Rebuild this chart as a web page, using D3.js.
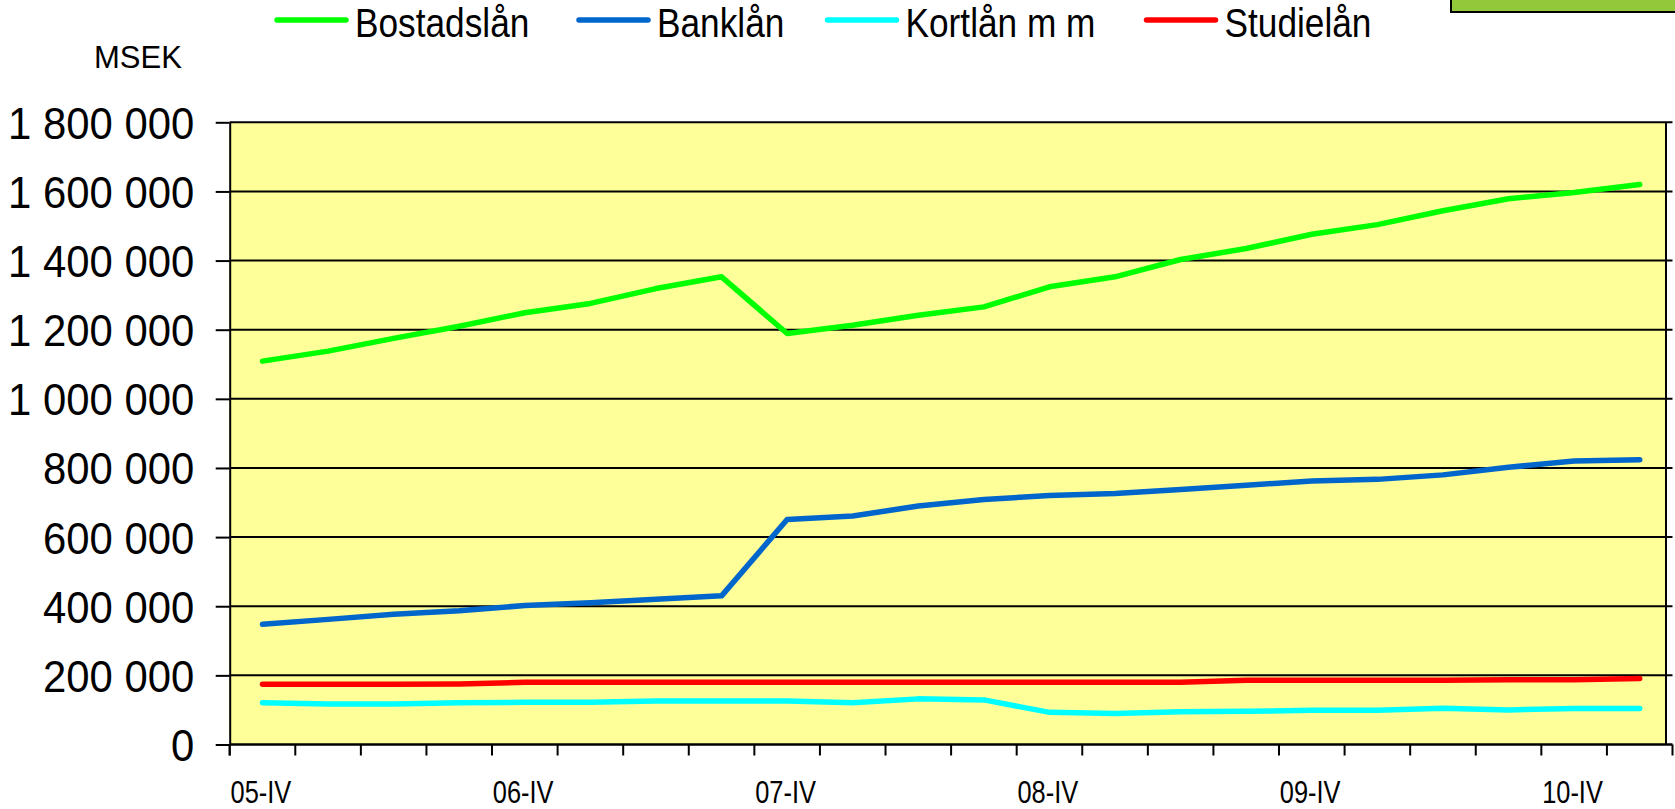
<!DOCTYPE html>
<html>
<head>
<meta charset="utf-8">
<script src="https://cdn.jsdelivr.net/npm/d3@7"></script>
<style>
  html, body { margin: 0; padding: 0; background: #fff; }
  #chart { width: 1675px; height: 809px; }
</style>
</head>
<body>
<div id="chart"></div>
<script>
// quarters on the category axis (only every 4th is labelled)
const quarters = [
  "05-IV",
  "06-I", "06-II", "06-III", "06-IV",
  "07-I", "07-II", "07-III", "07-IV",
  "08-I", "08-II", "08-III", "08-IV",
  "09-I", "09-II", "09-III", "09-IV",
  "10-I", "10-II", "10-III", "10-IV",
  "11-I"
];
const xLabels = ["05-IV", "06-IV", "07-IV", "08-IV", "09-IV", "10-IV"];

// MSEK
const bostadslan = [1109, 1138, 1175, 1210, 1249, 1276, 1319, 1353, 1189, 1213, 1242, 1266,
                    1324, 1353, 1403, 1435, 1476, 1504, 1544, 1579, 1597, 1620].map(d => d * 1000);
const banklan = [348, 362, 377, 387, 402, 410, 420, 430, 651, 661, 690, 709,
                 720, 726, 738, 750, 762, 767, 780, 802, 820, 824].map(d => d * 1000);
const kortlan = [121, 117, 117, 121, 122, 122, 126, 126, 126, 121, 132, 129,
                 93, 90, 95, 96, 99, 99, 105, 100, 104, 104].map(d => d * 1000);
const studielan = [174, 174, 174, 175, 180, 180, 180, 180, 180, 180, 180, 180,
                   180, 180, 180, 186, 186, 186, 186, 187, 187, 191].map(d => d * 1000);

const seriesNames = ["Bostadslån", "Banklån", "Kortlån m m", "Studielån"];
const seriesColors = ["#00ff00", "#0066cc", "#00ffff", "#ff0000"];
const seriesValues = [bostadslan, banklan, kortlan, studielan];

const yTicks = [0, 200000, 400000, 600000, 800000, 1000000, 1200000, 1400000, 1600000, 1800000];

const W = 1675, H = 809;
const PLOT = { LEFT: 229.7, RIGHT: 1666, AXIS_END: 1672.5, TOP: 122.3, BOTTOM: 744.5 };
const FONT = "'Liberation Sans', Arial, sans-serif";
const NARROW = 0.82; // horizontal squeeze for the condensed texts

const svg = d3.select("#chart")
  .append("svg")
  .attr("width", W)
  .attr("height", H);

const x = d3.scaleBand()
  .domain(quarters)
  .range([PLOT.LEFT, PLOT.AXIS_END])
  .padding(0);

const y = d3.scaleLinear()
  .domain([0, 1800000])
  .range([PLOT.BOTTOM, PLOT.TOP]);

const fmt = d3.formatLocale({ decimal: ",", thousands: " ", grouping: [3], currency: ["", " kr"] }).format(",d");

// plot background
svg.append("rect")
  .attr("x", PLOT.LEFT)
  .attr("y", PLOT.TOP)
  .attr("width", PLOT.RIGHT - PLOT.LEFT)
  .attr("height", PLOT.BOTTOM - PLOT.TOP)
  .attr("fill", "#ffff99");

// gridlines
svg.append("g")
  .selectAll("line")
  .data(yTicks.slice(1))
  .enter()
  .append("line")
  .attr("x1", PLOT.LEFT)
  .attr("x2", PLOT.AXIS_END)
  .attr("y1", d => y(d))
  .attr("y2", d => y(d))
  .attr("stroke", "#000")
  .attr("stroke-width", 2);

// right border
svg.append("line")
  .attr("x1", PLOT.RIGHT).attr("x2", PLOT.RIGHT)
  .attr("y1", PLOT.TOP).attr("y2", PLOT.BOTTOM)
  .attr("stroke", "#000")
  .attr("stroke-width", 2);

// y axis
const yAxis = svg.append("g")
  .attr("transform", `translate(${PLOT.LEFT}, 0)`)
  .call(d3.axisLeft(y).tickValues(yTicks).tickFormat(fmt).tickSize(14).tickPadding(21).tickSizeOuter(0));
yAxis.select(".domain").attr("stroke", "#000").attr("stroke-width", 2);
yAxis.selectAll(".tick line").attr("stroke", "#000").attr("stroke-width", 2);
const YSQ = 0.93;
yAxis.selectAll(".tick text")
  .attr("font-family", FONT)
  .attr("font-size", "45px")
  .attr("fill", "#000")
  .attr("x", -35.5 / YSQ)
  .attr("dy", "0.355em")
  .attr("transform", `scale(${YSQ},1)`);
// axis line continues down to the tick mark level
svg.append("line")
  .attr("x1", PLOT.LEFT).attr("x2", PLOT.LEFT)
  .attr("y1", PLOT.BOTTOM).attr("y2", PLOT.BOTTOM + 11)
  .attr("stroke", "#000").attr("stroke-width", 2);

// x axis: ticks between categories
const bw = x.bandwidth();
const xAxis = svg.append("g")
  .attr("transform", `translate(0, ${PLOT.BOTTOM})`)
  .call(d3.axisBottom(x).tickSize(11).tickSizeOuter(0)
    .tickFormat(d => xLabels.includes(d) ? d : ""));
xAxis.select(".domain").remove();
xAxis.append("line")
  .attr("x1", PLOT.LEFT).attr("x2", PLOT.AXIS_END)
  .attr("y1", 0).attr("y2", 0)
  .attr("stroke", "#000").attr("stroke-width", 2.4);
xAxis.selectAll(".tick").attr("transform", d => `translate(${x(d)}, 0)`);
xAxis.selectAll(".tick line").attr("stroke", "#000").attr("stroke-width", 2);
xAxis.selectAll(".tick text")
  .attr("font-family", FONT)
  .attr("font-size", "31px")
  .attr("fill", "#000")
  .attr("text-anchor", "start")
  .attr("x", 1)
  .attr("y", 58.5)
  .attr("dy", 0)
  .attr("transform", `scale(${NARROW},1)`);
xAxis.append("line")
  .attr("x1", PLOT.AXIS_END).attr("x2", PLOT.AXIS_END)
  .attr("y1", 0).attr("y2", 11)
  .attr("stroke", "#000").attr("stroke-width", 2);

// lines
const line = d3.line()
  .x((d, i) => x(quarters[i]) + bw / 2)
  .y(d => y(d));

svg.append("g")
  .selectAll("path")
  .data(seriesValues)
  .enter()
  .append("path")
  .attr("d", d => line(d))
  .attr("fill", "none")
  .attr("stroke", (d, i) => seriesColors[i])
  .attr("stroke-width", 5.5)
  .attr("stroke-linejoin", "round")
  .attr("stroke-linecap", "round");

// unit label
svg.append("text")
  .attr("x", 94)
  .attr("y", 68)
  .attr("font-family", FONT)
  .attr("font-size", "31px")
  .attr("fill", "#000")
  .text("MSEK");

// legend
const legendX = [277, 579, 827.5, 1146.5];
const legend = svg.append("g");
seriesNames.forEach((name, i) => {
  legend.append("line")
    .attr("x1", legendX[i]).attr("x2", legendX[i] + 69)
    .attr("y1", 20).attr("y2", 20)
    .attr("stroke", seriesColors[i])
    .attr("stroke-width", 5.5)
    .attr("stroke-linecap", "round");
  legend.append("text")
    .attr("transform", `translate(${legendX[i] + 78}, 37.2) scale(0.86,1)`)
    .attr("font-family", FONT)
    .attr("font-size", "41px")
    .attr("fill", "#000")
    .text(name);
});

// green box at top right
svg.append("rect")
  .attr("x", 1451)
  .attr("y", -5)
  .attr("width", 240)
  .attr("height", 17)
  .attr("fill", "#93c83a")
  .attr("stroke", "#000")
  .attr("stroke-width", 2);
</script>
</body>
</html>
